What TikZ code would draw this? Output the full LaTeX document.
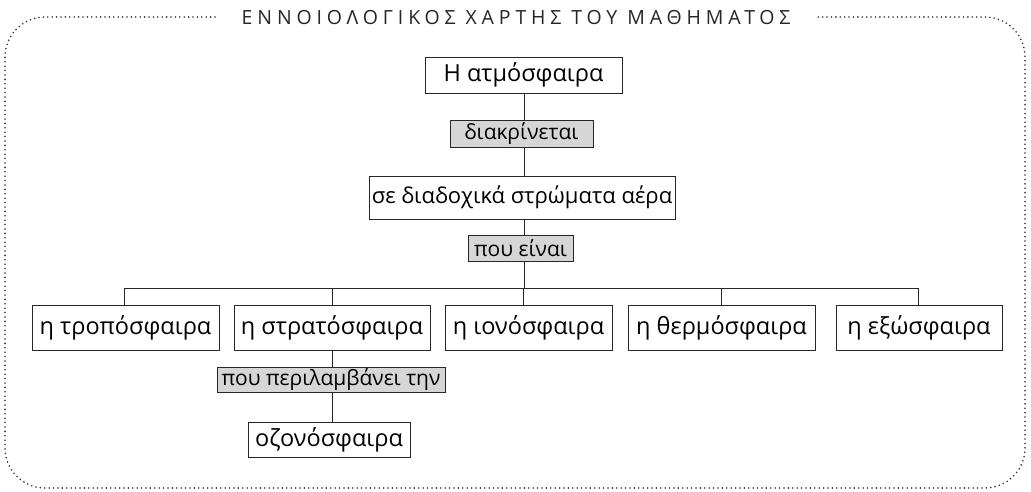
\documentclass[tikz,border=0pt]{standalone}
\usepackage{fontspec}
\setmainfont{Open Sans}
\begin{document}
\begin{tikzpicture}[x=1pt,y=-1pt,
  box/.style={draw=black!85,line width=0.9pt,fill=white,inner sep=0pt,
    font=\fontsize{23.5}{26}\selectfont},
  verb/.style={draw=black!85,line width=0.9pt,fill=black!16,inner sep=0pt,
    font=\fontsize{21}{24}\selectfont},
  link/.style={draw=black!85,line width=0.9pt},
  frame/.style={draw=black!80,line width=1.8pt,line cap=round,
    dash pattern=on 0pt off 4.4pt,rounded corners=40pt}]
\useasboundingbox (0,0) rectangle (1031,492);
% frame
\draw[frame] (215,17) -- (5,17) -- (5,488) -- (1025,488) -- (1025,17) -- (818,17);
\node[font=\fontsize{19.5}{22}\selectfont\addfontfeatures{LetterSpace=25},text=black!85,inner sep=0pt] (title) at (516,18) {ΕΝΝΟΙΟΛΟΓΙΚΟΣ ΧΑΡΤΗΣ ΤΟΥ ΜΑΘΗΜΑΤΟΣ};
% nodes
\node[box,minimum width=197pt,minimum height=36pt] (atm) at (523.5,75) {Η ατμόσφαιρα};
\node[verb,minimum width=143pt,minimum height=27pt] (diak) at (521.5,133.5) {διακρίνεται};
\node[box,minimum width=306pt,minimum height=43pt,font=\fontsize{22}{25}\selectfont] (se) at (522,197.5) {σε διαδοχικά στρώματα αέρα};
\node[verb,minimum width=105pt,minimum height=26pt] (pou) at (520.5,248) {που είναι};
\coordinate (bus) at (524,288);
\node[box,minimum width=187pt,minimum height=45pt] (tropo) at (125.5,327.5) {η τροπόσφαιρα};
\node[box,minimum width=196pt,minimum height=45pt] (strato) at (332,327.5) {η στρατόσφαιρα};
\node[box,minimum width=167pt,minimum height=45pt] (iono) at (528.5,327.5) {η ιονόσφαιρα};
\node[box,minimum width=187pt,minimum height=45pt] (thermo) at (721.5,327.5) {η θερμόσφαιρα};
\node[box,minimum width=166pt,minimum height=45pt] (exo) at (919,327.5) {η εξώσφαιρα};
\node[verb,minimum width=228pt,minimum height=25pt] (periel) at (331,379.5) {που περιλαμβάνει την};
\node[box,minimum width=162pt,minimum height=35pt] (ozono) at (329,439.5) {οζονόσφαιρα};
% connectors
\draw[link] (atm.south -| 524,0) -- (diak.north -| 524,0);
\draw[link] (diak.south -| 524,0) -- (se.north -| 524,0);
\draw[link] (se.south -| 524,0) -- (pou.north -| 524,0);
\draw[link] (pou.south -| 524,0) -- (bus);
\draw[link] ([xshift=-1.5pt]tropo.north) -- ([xshift=-1.5pt]tropo.north |- bus) -- ([xshift=-1pt]exo.north |- bus) -- ([xshift=-1pt]exo.north);
\draw[link] (strato.north) -- (strato.north |- bus);
\draw[link] ([xshift=-5.5pt]iono.north) -- ([xshift=-5.5pt]iono.north |- bus);
\draw[link] ([xshift=-0.5pt]thermo.north) -- ([xshift=-0.5pt]thermo.north |- bus);
\draw[link] (strato.south) -- (periel.north -| strato.south);
\draw[link] (periel.south -| strato.south) -- (ozono.north -| strato.south);
\end{tikzpicture}
\end{document}
